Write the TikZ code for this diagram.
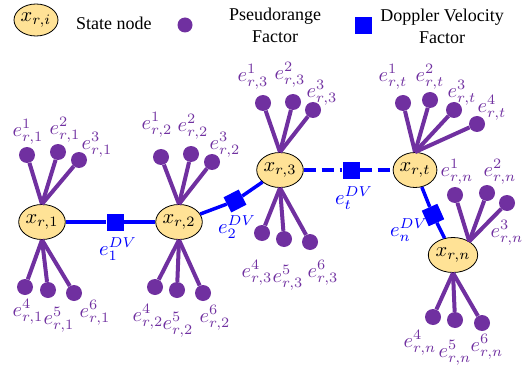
\documentclass[tikz,border=0pt]{standalone}
\usepackage{graphicx}
\usepackage{fontspec}
\setmainfont{Liberation Serif}
\usetikzlibrary{shapes.geometric}
\definecolor{prpl}{RGB}{112,48,160}
\definecolor{stfill}{RGB}{255,226,150}
\definecolor{dvblue}{RGB}{0,0,255}
\newcommand{\mlab}[1]{\scalebox{2.05}{$#1$}}
\tikzset{
  state/.style={ellipse, draw=black, line width=0.8pt, fill=stfill, minimum width=38pt, minimum height=35pt, inner sep=0pt},
  prdot/.style={circle, fill=prpl, minimum size=16pt, inner sep=0pt},
  prline/.style={prpl, line width=4pt},
  dvbox/.style={rectangle, fill=dvblue, minimum size=17pt, inner sep=0pt},
  dvline/.style={dvblue, line width=3.5pt},
  elab/.style={text=prpl, inner sep=0pt},
  dvlab/.style={text=dvblue, inner sep=0pt},
  legtxt/.style={inner sep=0pt, align=center, font=\fontsize{18}{22}\selectfont}
}
\begin{document}
\begin{tikzpicture}[x=1pt, y=-1pt]
  \useasboundingbox (0,0) rectangle (526,366);

  %%%%% legend
  \node[state, minimum width=44pt, minimum height=32pt] (lgstate) at (36,20) {\mlab{x_{r,i}}};
  \node[legtxt, anchor=west] (lgstatetxt) at (76,23) {State node};
  \node[prdot, minimum size=15pt] (lgdot) at (185,25) {};
  \node[legtxt] (lgdottxt) at (275,25) {Pseudorange\\Factor};
  \node[dvbox] (lgbox) at (363,26) {};
  \node[legtxt] (lgboxtxt) at (442,26) {Doppler Velocity\\Factor};

  %%%%% state nodes
  \node[state] (x1) at (42,222) {\mlab{x_{r,1}}};
  \node[state] (x2) at (179,222) {\mlab{x_{r,2}}};
  \node[state] (x3) at (280,170) {\mlab{x_{r,3}}};
  \node[state] (xt) at (415,170) {\mlab{x_{r,t}}};
  \node[state] (xn) at (453,255) {\mlab{x_{r,n}}};

  %%%%% doppler velocity factors
  \node[dvbox] (f1) at (115,222) {};
  \node[dvbox, rotate=27] (f2) at (235,201) {};
  \node[dvbox] (ft) at (351,170) {};
  \node[dvbox, rotate=-66] (fn) at (433,215) {};

  \draw[dvline] (x1) -- (f1) -- (x2);
  \draw[dvline] (x2) -- (f2) -- (x3);
  \draw[dvline, dash pattern=on 12pt off 6pt] (x3) -- (ft) -- (xt);
  \draw[dvline] (xt) -- (fn) -- (xn);

  \node[dvlab] (lf1) at (118,249) {\mlab{e_{1}^{DV}}};
  \node[dvlab] (lf2) at (237,227) {\mlab{e_{2}^{DV}}};
  \node[dvlab] (lft) at (354,198) {\mlab{e_{t}^{DV}}};
  \node[dvlab] (lfn) at (409,230) {\mlab{e_{n}^{DV}}};

  %%%%% pseudorange factors, x_{r,1}
  \node[prdot] (p11) at (27,155) {};
  \node[prdot] (p12) at (58,152) {};
  \node[prdot] (p13) at (79,160) {};
  \node[prdot] (p14) at (25,287) {};
  \node[prdot] (p15) at (48,290) {};
  \node[prdot] (p16) at (74,293) {};
  \draw[prline] (x1.north) -- (p11);
  \draw[prline] (x1.north) -- (p12);
  \draw[prline] (x1.north) -- (p13);
  \draw[prline] (x1.south) -- (p14);
  \draw[prline] (x1.south) -- (p15);
  \draw[prline] (x1.south) -- (p16);
  \node[elab] (l11) at (28,132) {\mlab{e_{r,1}^{1}}};
  \node[elab] (l12) at (65,130) {\mlab{e_{r,1}^{2}}};
  \node[elab] (l13) at (97,145) {\mlab{e_{r,1}^{3}}};
  \node[elab] (l14) at (28,312) {\mlab{e_{r,1}^{4}}};
  \node[elab] (l15) at (59,320) {\mlab{e_{r,1}^{5}}};
  \node[elab] (l16) at (95,313) {\mlab{e_{r,1}^{6}}};

  %%%%% x_{r,2}
  \node[prdot] (p21) at (161,157) {};
  \node[prdot] (p22) at (191,154) {};
  \node[prdot] (p23) at (212,162) {};
  \node[prdot] (p24) at (155,287) {};
  \node[prdot] (p25) at (177,290) {};
  \node[prdot] (p26) at (203,293) {};
  \draw[prline] (x2.north) -- (p21);
  \draw[prline] (x2.north) -- (p22);
  \draw[prline] (x2.north) -- (p23);
  \draw[prline] (x2.south) -- (p24);
  \draw[prline] (x2.south) -- (p25);
  \draw[prline] (x2.south) -- (p26);
  \node[elab] (l21) at (157,125) {\mlab{e_{r,2}^{1}}};
  \node[elab] (l22) at (193,127) {\mlab{e_{r,2}^{2}}};
  \node[elab] (l23) at (225,145) {\mlab{e_{r,2}^{3}}};
  \node[elab] (l24) at (148,317) {\mlab{e_{r,2}^{4}}};
  \node[elab] (l25) at (178,325) {\mlab{e_{r,2}^{5}}};
  \node[elab] (l26) at (215,318) {\mlab{e_{r,2}^{6}}};

  %%%%% x_{r,3}
  \node[prdot] (p31) at (263,103) {};
  \node[prdot] (p32) at (293,102) {};
  \node[prdot] (p33) at (313,110) {};
  \node[prdot] (p34) at (262,233) {};
  \node[prdot] (p35) at (284,239) {};
  \node[prdot] (p36) at (310,242) {};
  \draw[prline] (x3.north) -- (p31);
  \draw[prline] (x3.north) -- (p32);
  \draw[prline] (x3.north) -- (p33);
  \draw[prline] (x3.south) -- (p34);
  \draw[prline] (x3.south) -- (p35);
  \draw[prline] (x3.south) -- (p36);
  \node[elab] (l31) at (253,77) {\mlab{e_{r,3}^{1}}};
  \node[elab] (l32) at (290,75) {\mlab{e_{r,3}^{2}}};
  \node[elab] (l33) at (322,93) {\mlab{e_{r,3}^{3}}};
  \node[elab] (l34) at (257,273) {\mlab{e_{r,3}^{4}}};
  \node[elab] (l35) at (288,278) {\mlab{e_{r,3}^{5}}};
  \node[elab] (l36) at (323,273) {\mlab{e_{r,3}^{6}}};

  %%%%% x_{r,t}
  \node[prdot] (pt1) at (403,103) {};
  \node[prdot] (pt2) at (430,100) {};
  \node[prdot] (pt3) at (454,110) {};
  \node[prdot] (pt4) at (477,124) {};
  \draw[prline] (xt.north) -- (pt1);
  \draw[prline] (xt.north) -- (pt2);
  \draw[prline] (xt.north) -- (pt3);
  \draw[prline] (xt.north) -- (pt4);
  \node[elab] (lt1) at (393,77) {\mlab{e_{r,t}^{1}}};
  \node[elab] (lt2) at (430,77) {\mlab{e_{r,t}^{2}}};
  \node[elab] (lt3) at (462,93) {\mlab{e_{r,t}^{3}}};
  \node[elab] (lt4) at (492,108) {\mlab{e_{r,t}^{4}}};

  %%%%% x_{r,n}
  \node[prdot] (pn1) at (455,195) {};
  \node[prdot] (pn2) at (487,193) {};
  \node[prdot] (pn3) at (507,203) {};
  \node[prdot] (pn4) at (433,317) {};
  \node[prdot] (pn5) at (455,320) {};
  \node[prdot] (pn6) at (482,323) {};
  \draw[prline] (xn.40) -- (pn1);
  \draw[prline] (xn.40) -- (pn2);
  \draw[prline] (xn.40) -- (pn3);
  \draw[prline] (xn.south) -- (pn4);
  \draw[prline] (xn.south) -- (pn5);
  \draw[prline] (xn.south) -- (pn6);
  \node[elab] (ln1) at (457,172) {\mlab{e_{r,n}^{1}}};
  \node[elab] (ln2) at (500,172) {\mlab{e_{r,n}^{2}}};
  \node[elab] (ln3) at (507,233) {\mlab{e_{r,n}^{3}}};
  \node[elab] (ln4) at (420,343) {\mlab{e_{r,n}^{4}}};
  \node[elab] (ln5) at (455,353) {\mlab{e_{r,n}^{5}}};
  \node[elab] (ln6) at (487,347) {\mlab{e_{r,n}^{6}}};
\end{tikzpicture}
\end{document}
